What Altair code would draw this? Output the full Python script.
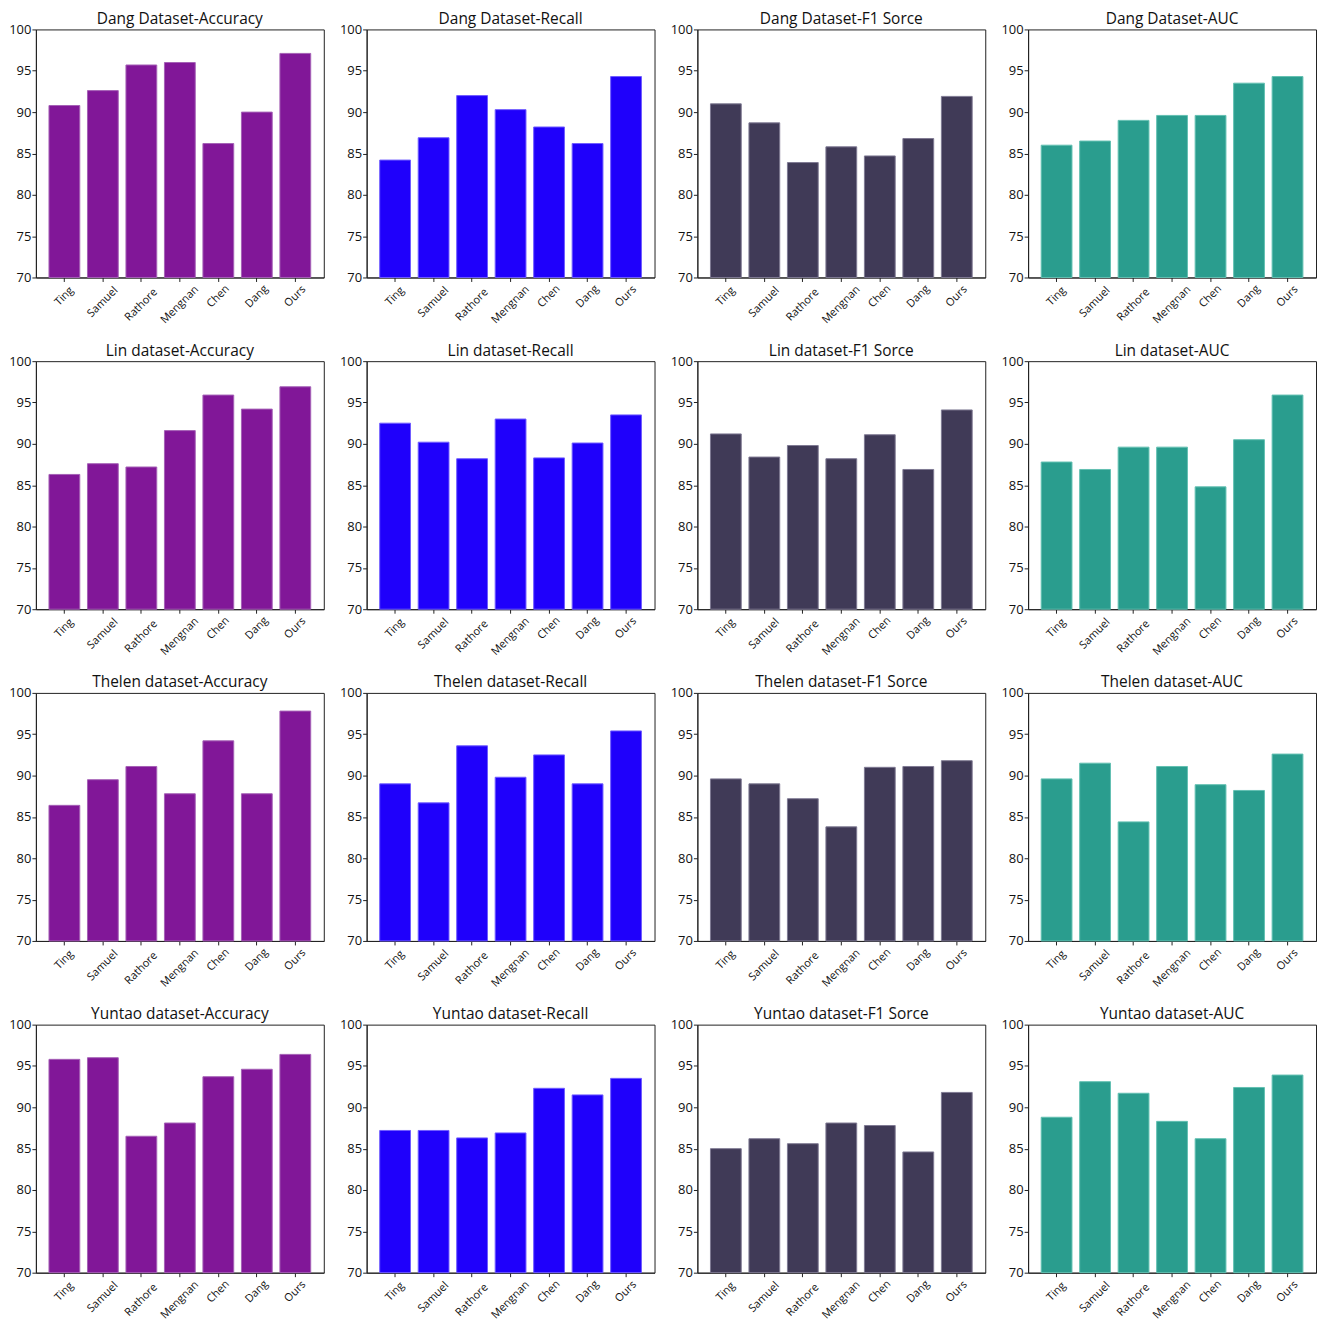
import altair as alt
import pandas as pd

FONT = "Open Sans"
W, H = 289, 249

methods = ["Ting", "Samuel", "Rathore", "Mengnan", "Chen", "Dang", "Ours"]
datasets = ["Dang Dataset", "Lin dataset", "Thelen dataset", "Yuntao dataset"]
metrics = ["Accuracy", "Recall", "F1 Sorce", "AUC"]

dang_acc = [90.8, 92.6, 95.7, 96.0, 86.2, 90.0, 97.1]
dang_rec = [84.2, 86.9, 92.0, 90.3, 88.2, 86.2, 94.3]
dang_f1 = [91.0, 88.7, 83.9, 85.8, 84.7, 86.8, 91.9]
dang_auc = [86.0, 86.5, 89.0, 89.6, 89.6, 93.5, 94.3]

lin_acc = [86.3, 87.6, 87.2, 91.6, 95.9, 94.2, 96.9]
lin_rec = [92.5, 90.2, 88.2, 93.0, 88.3, 90.1, 93.5]
lin_f1 = [91.2, 88.4, 89.8, 88.2, 91.1, 86.9, 94.1]
lin_auc = [87.8, 86.9, 89.6, 89.6, 84.8, 90.5, 95.9]

thelen_acc = [86.4, 89.5, 91.1, 87.8, 94.2, 87.8, 97.8]
thelen_rec = [89.0, 86.7, 93.6, 89.8, 92.5, 89.0, 95.4]
thelen_f1 = [89.6, 89.0, 87.2, 83.8, 91.0, 91.1, 91.8]
thelen_auc = [89.6, 91.5, 84.4, 91.1, 88.9, 88.2, 92.6]

yuntao_acc = [95.8, 96.0, 86.5, 88.1, 93.7, 94.6, 96.4]
yuntao_rec = [87.2, 87.2, 86.3, 86.9, 92.3, 91.5, 93.5]
yuntao_f1 = [85.0, 86.2, 85.6, 88.1, 87.8, 84.6, 91.8]
yuntao_auc = [88.8, 93.1, 91.7, 88.3, 86.2, 92.4, 93.9]

values = [
    [dang_acc, dang_rec, dang_f1, dang_auc],
    [lin_acc, lin_rec, lin_f1, lin_auc],
    [thelen_acc, thelen_rec, thelen_f1, thelen_auc],
    [yuntao_acc, yuntao_rec, yuntao_f1, yuntao_auc],
]

fills = ["#811798", "#1F00FB", "#403A57", "#2A9D8E"]
strokes = ["#A560B6", "#6F5CFF", "#7E7993", "#62C0B2"]

AXC = "#222222"


def panel(title, vals, fill, stroke):
    df = pd.DataFrame({"method": methods, "value": vals})
    base = alt.Chart(df)
    xscale = alt.Scale(paddingInner=0.2, paddingOuter=0.34)
    bars = base.mark_bar(fill=fill, stroke=stroke, strokeWidth=1).encode(
        x=alt.X(
            "method:N",
            sort=methods,
            scale=xscale,
            axis=alt.Axis(title=None, labels=False, ticks=True, tickSize=4,
                          tickColor=AXC, domainColor=AXC, domainWidth=1),
        ),
        y=alt.Y(
            "value:Q",
            scale=alt.Scale(domain=[70, 100], zero=False, nice=False),
            axis=alt.Axis(title=None, values=[70, 75, 80, 85, 90, 95, 100],
                          tickSize=4, labelPadding=1, grid=False,
                          tickColor=AXC, domainColor=AXC, labelFontSize=13,
                          labelFont=FONT, labelColor="#111111"),
        ),
        y2=alt.datum(70),
    )
    labels = base.transform_calculate(
        ly=f"{H} + 8 + 2.8*length(datum.method)"
    ).mark_text(
        angle=315, align="center", baseline="middle", fontSize=11,
        font=FONT, color="#111111"
    ).encode(
        x=alt.X("method:N", sort=methods, scale=xscale),
        y=alt.Y("ly:Q", scale=None, axis=None),
        text="method:N",
    )
    return alt.layer(bars, labels).resolve_scale(y="independent").properties(
        width=W,
        height=H,
        title=alt.TitleParams(title, fontSize=15.5, font=FONT, fontWeight="normal",
                              offset=-4, anchor="middle", color="#111111"),
    )


panels = []
for i, ds in enumerate(datasets):
    for j, mt in enumerate(metrics):
        panels.append(panel(f"{ds}-{mt}", values[i][j], fills[j], strokes[j]))

chart = alt.concat(
    *panels, columns=4, spacing={"row": 84, "column": 43}, bounds="flush"
).properties(
    padding={"left": 0, "top": 1, "right": 0, "bottom": 0}
).configure_view(
    stroke=AXC, strokeWidth=1
).configure_axis(
    grid=False
)

chart.save("out.html", embed_options={"renderer": "svg", "actions": False})
